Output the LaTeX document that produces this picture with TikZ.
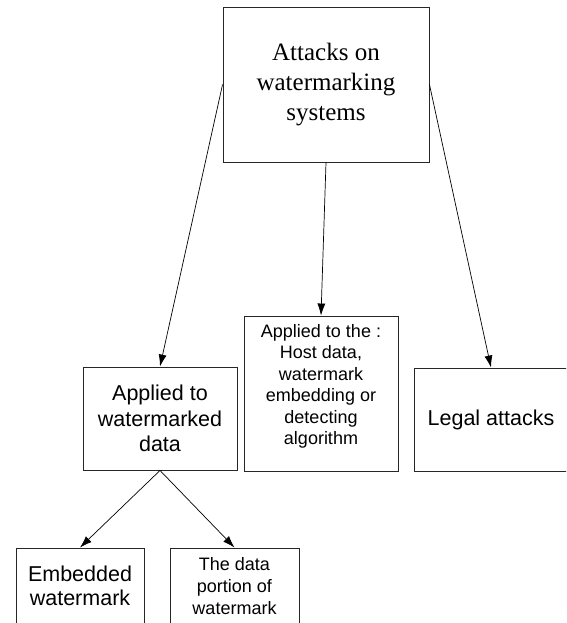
\documentclass[tikz,border=0pt]{standalone}
\usepackage{fontspec}
\setmainfont{Liberation Sans}
\newfontfamily\timesfont{Liberation Serif}
\usetikzlibrary{arrows.meta}
\tikzset{
  boxnode/.style={draw=black!85, line width=0.9pt, rectangle, inner sep=0pt},
  conn/.style={line width=0.7pt, -{Latex[length=12pt,width=8pt]}},
}
\begin{document}
\begin{tikzpicture}[x=1pt,y=-1pt]
\useasboundingbox (0,0) rectangle (566,623);
\clip (0,0) rectangle (566,623);
% boxes
\node[boxnode, minimum width=206pt, minimum height=155pt, align=center,
  font=\timesfont\fontsize{25}{30}\selectfont] (top) at (326,84.5)
  {Attacks on\\watermarking\\systems};
\node[boxnode, minimum width=154pt, minimum height=103pt, align=center,
  font=\fontsize{21.5}{25.5}\selectfont] (left) at (160,418.5)
  {Applied to\\watermarked\\data};
\node[boxnode, minimum width=154pt, minimum height=155pt] (mid) at (321,393.5) {};
\node[align=center, font=\fontsize{18}{21.5}\selectfont, inner sep=0pt,
  anchor=base] (midtext) at (321,444.5)
  {Applied to the :\\ Host data,\\watermark\\embedding or\\detecting\\algorithm};
\node[boxnode, minimum width=154pt, minimum height=103pt,
  font=\fontsize{21.5}{25.5}\selectfont] (legal) at (491,419.5)
  {Legal attacks};
\node[boxnode, minimum width=128pt, minimum height=103pt] (emb) at (80,599.5) {};
\node[align=center, font=\fontsize{21.5}{24}\selectfont, inner sep=0pt,
  anchor=base] (embtext) at (80,605)
  {Embedded\\watermark};
\node[boxnode, minimum width=129pt, minimum height=103pt] (data) at (234.5,599.5) {};
\node[align=center, font=\fontsize{18}{22}\selectfont, inner sep=0pt,
  anchor=base] (datatext) at (234.5,614)
  {The data\\portion of\\watermark};
% connectors
\draw[conn] (top.west) -- (left.north);
\draw[conn] (top.south) -- (mid.north);
\draw[conn] (top.east) -- (legal.north);
\draw[conn] (left.south) -- (emb.north);
\draw[conn] (left.south) -- (data.north);
\end{tikzpicture}
\end{document}
